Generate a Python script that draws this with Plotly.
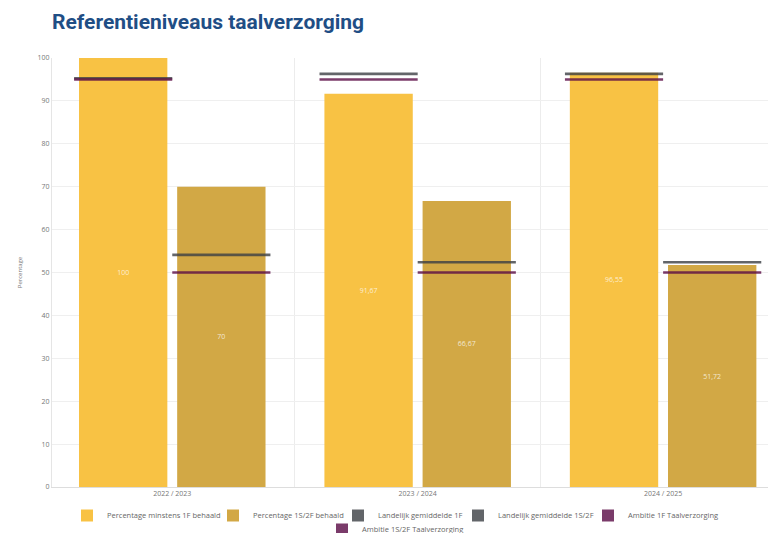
import plotly.graph_objects as go

categories = ["2022 / 2023", "2023 / 2024", "2024 / 2025"]
pct_1f = [100, 91.67, 96.55]
pct_1s2f = [70, 66.67, 51.72]
landelijk_1f = [95.3, 96.3, 96.3]
landelijk_1s2f = [54.1, 52.4, 52.4]
ambitie_1f = [95, 95, 95]
ambitie_1s2f = [50, 50, 50]

series_names = ["Percentage minstens 1F behaald", "Percentage 1S/2F behaald",
                "Landelijk gemiddelde 1F", "Landelijk gemiddelde 1S/2F",
                "Ambitie 1F Taalverzorging", "Ambitie 1S/2F Taalverzorging"]

C_1F = "#F8C244"
C_2F = "#D2A845"
C_LAND = "#3C3F44"
C_AMB = "#5A0B45"
LINE_H = 0.6

legend_ids = ["legend", "legend2", "legend3", "legend4", "legend5", "legend6"]
# legend anchor positions (figure px): left x, top y
legend_pos = [(59, 493), (205, 493), (330, 493), (450, 493), (580, 493), (314, 507)]


def fmt(v):
    return f"{v:.2f}".rstrip("0").rstrip(".").replace(".", ",")


fig = go.Figure()

fig.add_bar(x=categories, y=pct_1f, name=series_names[0], legend=legend_ids[0],
            marker=dict(color=C_1F, line=dict(width=0)), offset=-0.38, width=0.36,
            text=[fmt(v) for v in pct_1f],
            textposition="inside", insidetextanchor="middle",
            textfont=dict(size=7, color="rgba(255,255,255,0.75)"))
fig.add_bar(x=categories, y=pct_1s2f, name=series_names[1], legend=legend_ids[1],
            marker=dict(color=C_2F, line=dict(width=0)), offset=0.02, width=0.36,
            text=[fmt(v) for v in pct_1s2f],
            textposition="inside", insidetextanchor="middle",
            textfont=dict(size=7, color="rgba(255,255,255,0.75)"))


def line_trace(vals, idx, color, offset):
    return go.Bar(x=categories, y=[LINE_H] * len(vals),
                  base=[v - LINE_H / 2 for v in vals], name=series_names[idx],
                  marker=dict(color=color, line=dict(width=0)), opacity=0.8,
                  offset=offset, width=0.4, hoverinfo="name+x", legend=legend_ids[idx])


fig.add_trace(line_trace(landelijk_1f, 2, C_LAND, -0.4))
fig.add_trace(line_trace(landelijk_1s2f, 3, C_LAND, 0.0))
fig.add_trace(line_trace(ambitie_1f, 4, C_AMB, -0.4))
fig.add_trace(line_trace(ambitie_1s2f, 5, C_AMB, 0.0))

W, H = 768, 525
legends = {}
for lid, (lx, ly) in zip(legend_ids, legend_pos):
    legends[lid] = dict(orientation="h", xref="container", yref="container",
                        x=lx / W, xanchor="left", y=1 - ly / H, yanchor="top",
                        font=dict(size=7.5, color="#666"), bgcolor="rgba(0,0,0,0)")

fig.update_layout(
    width=W, height=H,
    barmode="overlay",
    plot_bgcolor="white", paper_bgcolor="white",
    margin=dict(l=44, r=0, t=50, b=46),
    font=dict(family="Open Sans", size=7, color="#777"),
    title=dict(text="<b>Referentieniveaus taalverzorging</b>",
               font=dict(family="Roboto", size=21, color="#1F4E85"),
               x=44 / W, xref="container", y=1 - 14 / H, yref="container",
               xanchor="left", yanchor="middle", pad=dict(t=0, b=0, l=0, r=0)),
    showlegend=True,
    **legends,
)
fig.update_xaxes(type="category", tickson="boundaries", showgrid=True, gridcolor="#ececec",
                 gridwidth=1, showline=True, linecolor="#ddd", ticks="", range=[-0.49, 2.46],
                 tickfont=dict(size=7, color="#777"), automargin=False)
fig.update_yaxes(range=[0, 100], dtick=10, showgrid=True, gridcolor="#efefef",
                 zeroline=False, showline=True, linecolor="#e5e5e5",
                 title=dict(text="Percentage", font=dict(size=6, color="#777"), standoff=14),
                 tickfont=dict(size=7, color="#777"), automargin=False)

fig.write_html("out.html")
